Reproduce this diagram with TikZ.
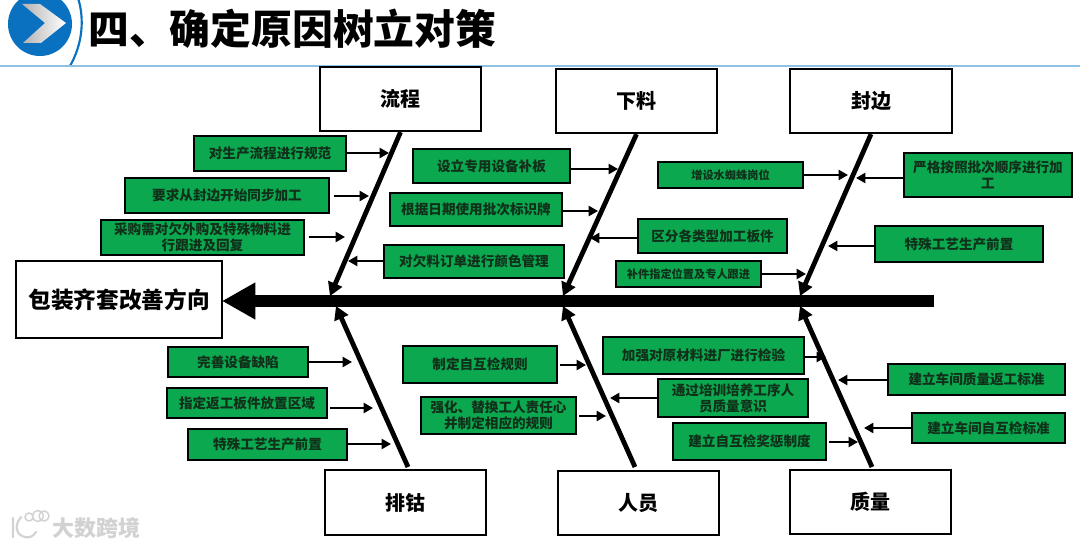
\documentclass[tikz,border=0pt]{standalone}
\usepackage{fontspec}
\setmainfont{Noto Sans CJK SC}
\usetikzlibrary{arrows.meta}
\definecolor{boxgreen}{HTML}{0BA850}
\definecolor{logoblue}{HTML}{0A70C0}
\definecolor{rulecol}{HTML}{8FC1E3}
\definecolor{txtdark}{HTML}{10301A}
\tikzset{
 x=0.75pt,y=-0.75pt,
 gbox/.style={draw=black,line width=1.9pt,fill=boxgreen,inner sep=0pt,align=center,text=txtdark,font=\fontsize{10.2}{12}\selectfont\bfseries},
 gsmall/.style={font=\fontsize{8.4}{10}\selectfont\bfseries},
 wbox/.style={draw=black,line width=1.7pt,fill=white,inner sep=0pt,align=center,font=\fontsize{15}{18}\selectfont\bfseries},
 minor/.style={line width=1.6pt,-{Triangle[length=7pt,width=7.5pt]}},
 bone/.style={line width=3.6pt,-{Triangle[length=10pt,width=11pt]}},
 spine/.style={line width=9pt,-{Triangle[length=25pt,width=26pt]}},
}
% name, x0, y0, x1, y1, options, text
\newcommand{\bx}[7]{\node[#6,minimum width={(#4-#2)*0.75pt},minimum height={(#5-#3)*0.75pt}] (#1) at ({(#2+#4)/2},{(#3+#5)/2}) {#7};}
\begin{document}
\begin{tikzpicture}
\useasboundingbox (0,0) rectangle (1080,548);
\begin{scope}
\clip (0,0) rectangle (1080,548);
% header
\fill[logoblue] (40,24) circle[radius=32];
\shade[left color=gray!60,right color=white] (22,4) -- (40,4) -- (66,23) -- (41,43) -- (23,43) -- (45,23) -- cycle;
\draw[logoblue,line width=1.6pt] (78,-2) .. controls (85,20) and (82,45) .. (70,66);
\draw[rulecol,line width=1.2pt] (0,66) -- (1080,66);
\node[font=\fontsize{30.6}{36}\selectfont\bfseries,anchor=west,inner sep=0pt] (title) at (88,29) {四、确定原因树立对策};
% watermark
\draw[gray!35,line width=1.6pt,line cap=round] (13,518) -- (13,537) (21,517) .. controls (15,525) and (15,532) .. (22,536) .. controls (28,539) and (33,537) .. (36,532);
\draw[gray!35,line width=1.1pt] (29,517) circle[radius=4] (38,516) circle[radius=5.5] (44,516) circle[radius=5];
\node[font=\fontsize{16.5}{18}\selectfont\bfseries,text=gray!35,anchor=west,inner sep=0pt] (wm) at (52,528) {大数跨境};
\end{scope}
% white category boxes
\bx{liucheng}{320}{67}{481}{131}{wbox}{流程}
\bx{xialiao}{556}{69}{717}{133}{wbox}{下料}
\bx{fengbian}{790}{69}{952}{133}{wbox}{封边}
\bx{paizuan}{325}{470}{486}{535}{wbox}{排钴}
\bx{renyuan}{558}{471}{719}{535}{wbox}{人员}
\bx{zhiliang}{790}{470}{951}{534}{wbox}{质量}
\bx{head}{16}{261}{222}{338}{wbox,font=\fontsize{17}{20}\selectfont\bfseries}{包装齐套改善方向}
% spine
\coordinate (tail) at (934,301);
\coordinate (tip) at (222,301);
\draw[spine] (tail) -- (tip);
% bones
\coordinate (t1) at (330,296); \coordinate (t2) at (563,296); \coordinate (t3) at (800,296);
\coordinate (b1) at (336,306); \coordinate (b2) at (563,306); \coordinate (b3) at (800,306);
\draw[bone] (liucheng.south) -- (t1);
\draw[bone] (xialiao.south) -- (t2);
\draw[bone] (fengbian.south) -- (t3);
\coordinate (s1) at (408,467); \coordinate (s2) at (635,467); \coordinate (s3) at (872,467);
\draw[bone] (s1) -- (b1);
\draw[bone] (s2) -- (b2);
\draw[bone] (s3) -- (b3);
% green boxes
\bx{a1}{194}{136}{346}{171}{gbox}{对生产流程进行规范}
\bx{a2}{125}{178}{329}{213}{gbox}{要求从封边开始同步加工}
\bx{a3}{101}{220}{304}{255}{gbox}{采购需对欠外购及特殊物料进\\行跟进及回复}
\bx{a4}{384}{245}{564}{278}{gbox}{对欠料订单进行颜色管理}
\bx{c1}{413}{149}{570}{183}{gbox}{设立专用设备补板}
\bx{c2}{390}{193}{562}{226}{gbox}{根据日期使用批次标识牌}
\bx{c3}{638}{219}{787}{253}{gbox}{区分各类型加工板件}
\bx{c4}{616}{261}{761}{287}{gbox,gsmall}{补件指定位置及专人跟进}
\bx{d1}{658}{162}{803}{188}{gbox,gsmall}{增设水蜘蛛岗位}
\bx{d2}{904}{153}{1072}{197}{gbox}{严格按照批次顺序进行加\\工}
\bx{d3}{875}{226}{1043}{262}{gbox}{特殊工艺生产前置}
\bx{e1}{168}{347}{308}{377}{gbox}{完善设备缺陷}
\bx{e2}{167}{388}{327}{418}{gbox}{指定返工板件放置区域}
\bx{e3}{188}{429}{347}{460}{gbox}{特殊工艺生产前置}
\bx{f1}{403}{346}{557}{383}{gbox}{制定自互检规则}
\bx{f2}{421}{397}{576}{434}{gbox}{强化、替换工人责任心\\并制定相应的规则}
\bx{g1}{603}{337}{804}{374}{gbox}{加强对原材料进厂进行检验}
\bx{g2}{658}{379}{808}{417}{gbox}{通过培训培养工序人\\员质量意识}
\bx{g3}{673}{423}{826}{460}{gbox}{建立自互检奖惩制度}
\bx{h1}{888}{364}{1065}{395}{gbox}{建立车间质量返工标准}
\bx{h2}{912}{413}{1065}{443}{gbox}{建立车间自互检标准}
% minor arrows: horizontal, leaving each box's side at the arrow's height
\coordinate (pa1) at (389,153); \draw[minor] (a1.east |- pa1) -- (pa1);
\coordinate (pa2) at (369,196); \draw[minor] ([xshift=2.5pt]a2.east |- pa2) -- (pa2);
\coordinate (pa3) at (345,237); \draw[minor] ([xshift=2.5pt]a3.east |- pa3) -- (pa3);
\coordinate (pa4) at (348,261); \draw[minor] (a4.west |- pa4) -- (pa4);
\coordinate (pc1) at (618,169); \draw[minor] (c1.east |- pc1) -- (pc1);
\coordinate (pc2) at (598,211); \draw[minor] (c2.east |- pc2) -- (pc2);
\coordinate (pc3) at (590,238); \draw[minor] (c3.west |- pc3) -- (pc3);
\coordinate (pc4) at (806,274); \draw[minor] (c4.east |- pc4) -- (pc4);
\coordinate (pd1) at (848,175); \draw[minor] (d1.east |- pd1) -- (pd1);
\coordinate (pd2) at (856,178); \draw[minor] (d2.west |- pd2) -- (pd2);
\coordinate (pd3) at (828,246); \draw[minor] (d3.west |- pd3) -- (pd3);
\coordinate (pe1) at (352,362); \draw[minor] (e1.east |- pe1) -- (pe1);
\coordinate (pe2) at (373,408); \draw[minor] ([xshift=1.5pt]e2.east |- pe2) -- (pe2);
\coordinate (pe3) at (391,444); \draw[minor] (e3.east |- pe3) -- (pe3);
\coordinate (pf1) at (586,365); \draw[minor] ([xshift=1.5pt]f1.east |- pf1) -- (pf1);
\coordinate (pf2) at (606,416); \draw[minor] ([xshift=1.5pt]f2.east |- pf2) -- (pf2);
\coordinate (pg1) at (826,357); \draw[minor] (g1.east |- pg1) -- (pg1);
\coordinate (pg2) at (610,398); \draw[minor] (g2.west |- pg2) -- (pg2);
\coordinate (pg3) at (858,442); \draw[minor] ([xshift=1.5pt]g3.east |- pg3) -- (pg3);
\coordinate (ph1) at (838,380); \draw[minor] (h1.west |- ph1) -- (ph1);
\coordinate (ph2) at (864,428); \draw[minor] (h2.west |- ph2) -- (ph2);
\end{tikzpicture}
\end{document}
